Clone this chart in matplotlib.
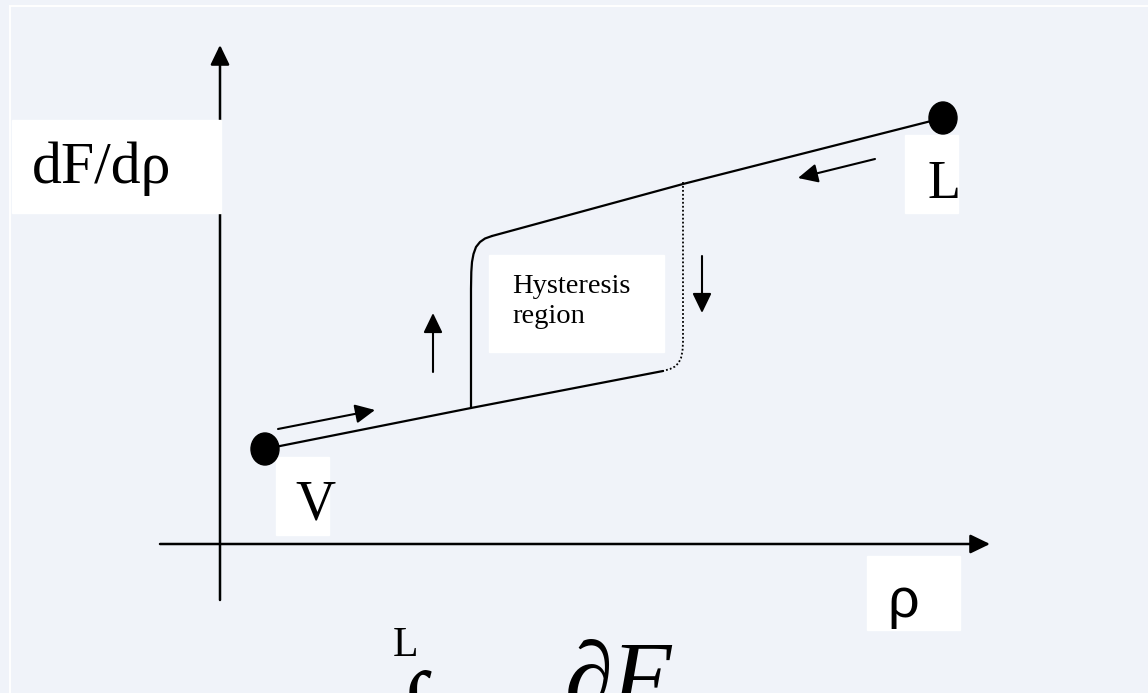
import matplotlib
matplotlib.use("Agg")
import matplotlib.pyplot as plt
from matplotlib.patches import Ellipse, Rectangle, FancyArrowPatch

# vapour branch (low density) and liquid branch (high density)
vap_rho = [0.45, 2.51, 4.43]
vap_dF = [0.95, 1.36, 1.73]
liq_rho = [2.72, 4.63, 7.23]
liq_dF = [3.08, 3.60, 4.26]

# jump up from the vapour branch onto the liquid branch
jump_rho = [2.51, 2.51, 2.513, 2.52, 2.535, 2.56, 2.60, 2.65, 2.72]
jump_dF = [1.36, 2.55, 2.72, 2.82, 2.90, 2.97, 3.02, 3.055, 3.08]

# dotted drop back down from the liquid branch
drop_rho = [4.63, 4.63, 4.63, 4.625, 4.61, 4.585, 4.55, 4.50, 4.43]
drop_dF = [3.62, 2.20, 2.02, 1.93, 1.86, 1.81, 1.775, 1.75, 1.73]

# end states
state_names = ["V", "L"]
state_rho = [0.45, 7.23]
state_dF = [0.95, 4.26]

# direction arrows (start, end)
arrows = [
    ((0.58, 1.15), (1.55, 1.34)),
    ((2.13, 1.72), (2.13, 2.31)),
    ((4.82, 2.88), (4.82, 2.31)),
    ((6.55, 3.85), (5.78, 3.66)),
]

bg = "#f0f3f9"
serif = ["Liberation Serif", "DejaVu Serif"]

fig = plt.figure(figsize=(11.48, 6.93), dpi=100, facecolor=bg)
ax = fig.add_axes([0, 0, 1, 1])
ax.set_xlim(-2.2, 9.28)
ax.set_ylim(-1.49, 5.44)
ax.set_facecolor(bg)
ax.axis("off")

# thin white frame
ax.add_patch(Rectangle((-2.10, -2.0), 12.0, 7.38, fill=False, ec="white", lw=1.4))

head = "-|>,head_length=0.6,head_width=0.29"


def arrow(p0, p1, lw=1.5):
    ax.add_patch(FancyArrowPatch(p0, p1, arrowstyle=head, mutation_scale=20,
                                 color="black", lw=lw, shrinkA=0, shrinkB=0))


# axes
arrow((0, -0.56), (0, 4.99), lw=1.8)
arrow((-0.60, 0), (7.70, 0), lw=1.8)

# curves
ax.plot(vap_rho, vap_dF, color="black", lw=1.6, solid_capstyle="round")
ax.plot(liq_rho, liq_dF, color="black", lw=1.6, solid_capstyle="round")
ax.plot(jump_rho, jump_dF, color="black", lw=1.6, solid_capstyle="round",
        solid_joinstyle="round")
ax.plot(drop_rho, drop_dF, color="black", lw=1.3, ls=(0, (1, 1.2)))

for r, f in zip(state_rho, state_dF):
    ax.add_patch(Ellipse((r, f), 0.28, 0.32, color="black", zorder=5))

for p0, p1 in arrows:
    arrow(p0, p1)

# label boxes
for x0, y0, w, h in [(-2.08, 3.31, 2.09, 0.93), (0.56, 0.09, 0.53, 0.78),
                     (6.85, 3.31, 0.53, 0.78), (6.47, -0.86, 0.93, 0.74),
                     (2.69, 1.92, 1.75, 0.97)]:
    ax.add_patch(Rectangle((x0, y0), w, h, color="white", zorder=3))

ax.text(-1.88, 3.61, "dF/dρ", family=serif, fontsize=43, zorder=4)
ax.text(0.95, 0.24, state_names[0], family=serif, fontsize=40, ha="center", zorder=4)
ax.text(7.08, 3.46, state_names[1], family=serif, fontsize=39, zorder=4)
ax.text(6.67, -0.73, "ρ", family=["Liberation Sans", "DejaVu Sans"], fontsize=40, zorder=4)
ax.text(2.92, 2.51, "Hysteresis", family=serif, fontsize=20.5, zorder=4)
ax.text(2.92, 2.21, "region", family=serif, fontsize=20.5, zorder=4)

# integral below the diagram
ax.text(1.73, -1.12, "L", family=serif, fontsize=30)
ax.text(1.79, -1.95, "∫", family=serif, fontsize=70)
ax.text(3.45, -1.65, "∂F", family=serif, fontsize=70, style="italic")

fig.savefig("out.png", dpi=100, facecolor=bg)
